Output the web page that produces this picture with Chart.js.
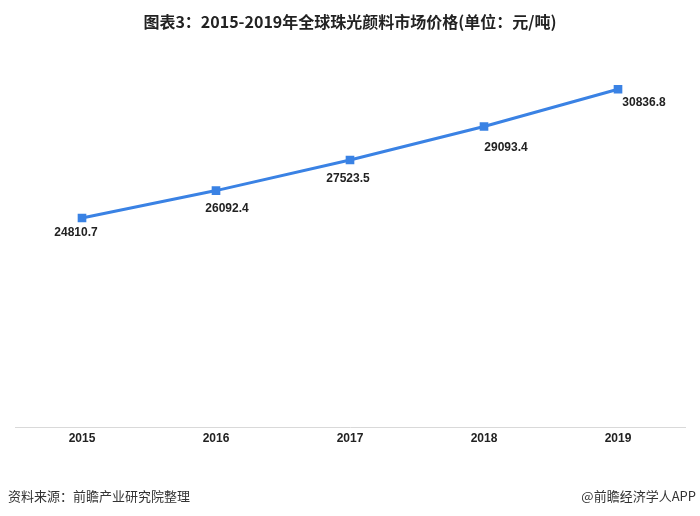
<!DOCTYPE html>
<html>
<head>
<meta charset="utf-8">
<script src="https://cdn.jsdelivr.net/npm/chart.js@4"></script>
<style>
  html, body { margin: 0; padding: 0; background: #fff; }
  #wrap { position: relative; width: 700px; height: 516px; }
  #title { position: absolute; top: 9px; left: 0; width: 700px; text-align: center;
           font: bold 16px "Liberation Sans Narrow", "Noto Sans CJK SC", sans-serif; color: #222; }
  .foot { position: absolute; top: 486px; font: 13px "Noto Sans CJK SC", sans-serif; color: #333; }
  #src { left: 8px; }
  #app { right: 4px; }
</style>
</head>
<body>
<div id="wrap">
  <canvas id="myLineChart" width="700" height="516"></canvas>
  <div id="title">图表3：2015-2019年全球珠光颜料市场价格(单位：元/吨)</div>
  <div class="foot" id="src">资料来源：前瞻产业研究院整理</div>
  <div class="foot" id="app">@前瞻经济学人APP</div>
</div>
<script>
// 데이터
var years = ['2015', '2016', '2017', '2018', '2019'];
var prices = [24810.7, 26092.4, 27523.5, 29093.4, 30836.8];
// 라벨 위치 보정 (px)
var labelOffsets = [[-6, 15], [11, 18], [-2, 19], [22, 21], [26, 13]];

// 값 라벨 그리기
var valueLabels = {
    id: 'valueLabels',
    afterDatasetsDraw: function (chart) {
        var c = chart.ctx;
        var meta = chart.getDatasetMeta(0);
        c.save();
        c.font = 'bold 12px "Liberation Sans", sans-serif';
        c.fillStyle = '#222';
        c.textAlign = 'center';
        c.textBaseline = 'middle';
        meta.data.forEach(function (pt, i) {
            c.fillText(prices[i].toFixed(1), pt.x + labelOffsets[i][0], pt.y + labelOffsets[i][1]);
        });
        c.restore();
    }
};

var ctx = document.getElementById('myLineChart').getContext('2d');
var myLineChart = new Chart(ctx, {
    type: 'line',
    data: {
        labels: years,
        datasets: [{
            data: prices,
            borderColor: '#3a82e4',
            backgroundColor: '#3a82e4',
            borderWidth: 3,
            pointStyle: 'rect',
            pointRadius: 4,
            fill: false,
            tension: 0
        }]
    },
    plugins: [valueLabels],
    options: {
        responsive: false,
        animation: false,
        layout: { padding: { top: 43, left: 15, right: 15, bottom: 66 } },
        plugins: { legend: { display: false }, tooltip: { enabled: false } },
        scales: {
            x: {
                offset: true,
                grid: { display: false, drawTicks: false },
                border: { display: true, color: '#d9d9d9', width: 1 },
                ticks: { color: '#222', padding: 4, font: { size: 12, weight: 'bold', family: '"Liberation Sans Narrow", "Liberation Sans", sans-serif' } }
            },
            y: {
                display: false,
                min: 15000,
                max: 33000
            }
        }
    }
});
</script>
</body>
</html>
